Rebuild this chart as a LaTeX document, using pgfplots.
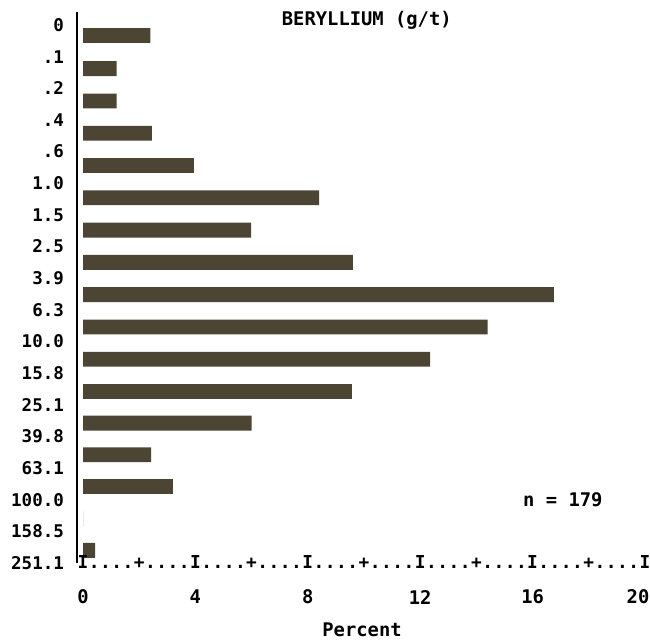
\documentclass[border=0pt]{standalone}
\usepackage{fontspec}
\setmainfont{DejaVu Sans Mono}[BoldFont={DejaVu Sans Mono Bold}]
\setmonofont{DejaVu Sans Mono}
\usepackage{pgfplots}
\pgfplotsset{compat=1.18}
\definecolor{barcol}{RGB}{76,69,51}
\newcommand{\chfont}{\fontsize{17.5bp}{20bp}\selectfont\bfseries}
\newcommand{\txfont}{\fontsize{18.8bp}{21bp}\selectfont\bfseries}
\newcommand{\rowfont}{\fontsize{17.8bp}{20bp}\selectfont\bfseries}
\begin{document}
\begin{tikzpicture}
\begin{axis}[
  x=28.1bp, y=31.65bp, y dir=reverse,
  xmin=-0.2, xmax=20, ymin=-0.4, ymax=17,
  clip=false,
  axis line style={draw=none},
  tick style={draw=none},
  xtick={0,4,8,12,16},
  xticklabels={0,4,8,12,16},
  extra x ticks={20},
  extra x tick labels={20},
  extra x tick style={xticklabel style={xshift=-7bp}},
  xticklabel pos=lower,
  xticklabel style={anchor=center, yshift=-34bp, font=\txfont},
  ytick={0,1,2,3,4,5,6,7,8,9,10,11,12,13,14,15,16,17},
  yticklabels={0,.1,.2,.4,.6,1.0,1.5,2.5,3.9,6.3,10.0,15.8,25.1,39.8,63.1,100.0,158.5,251.1},
  yticklabel style={anchor=east, xshift=-10bp, font=\chfont},
  /pgf/number format/assume math mode=true,
]
% left axis line
\addplot[black, line width=2.2bp] coordinates {(-0.2,-0.4) (-0.2,17)};
% bars: (percent, position between class limits)
\addplot[xbar, fill=barcol, draw=none, bar width=0.47] coordinates {
  (2.40,0.33) (1.20,1.38) (1.20,2.40) (2.45,3.42) (3.95,4.44)
  (8.40,5.46) (5.98,6.48) (9.60,7.50) (16.76,8.52) (14.40,9.54)
  (12.35,10.56) (9.57,11.58) (6.00,12.58) (2.42,13.58) (3.20,14.58)
  (0,15.60) (0.43,16.60)
};
% character axis row
\addplot[only marks, mark=text, text mark={I}, text mark as node=true,
  text mark style={font=\rowfont, anchor=base, yshift=-5.5bp, inner sep=0pt}]
  coordinates {(0,17)(4,17)(8,17)(12,17)(16,17)(20,17)};
\addplot[only marks, mark=text, text mark={+}, text mark as node=true,
  text mark style={font=\rowfont, anchor=base, yshift=-5.5bp, inner sep=0pt}]
  coordinates {(2,17)(6,17)(10,17)(14,17)(18,17)};
\addplot[only marks, mark=text, text mark={.}, text mark as node=true,
  text mark style={font=\rowfont, anchor=base, yshift=-5.5bp, inner sep=0pt}]
  coordinates {(0.4,17)(0.8,17)(1.2,17)(1.6,17)(2.4,17)(2.8,17)(3.2,17)(3.6,17)
  (4.4,17)(4.8,17)(5.2,17)(5.6,17)(6.4,17)(6.8,17)(7.2,17)(7.6,17)
  (8.4,17)(8.8,17)(9.2,17)(9.6,17)(10.4,17)(10.8,17)(11.2,17)(11.6,17)
  (12.4,17)(12.8,17)(13.2,17)(13.6,17)(14.4,17)(14.8,17)(15.2,17)(15.6,17)
  (16.4,17)(16.8,17)(17.2,17)(17.6,17)(18.4,17)(18.8,17)(19.2,17)(19.6,17)};
\node[font=\txfont, anchor=center] at (axis cs:10.1,-0.14) {BERYLLIUM (g/t)};
\node[font=\txfont, anchor=west, inner sep=0pt] at (axis cs:15.66,15.0) {n = 179};
\node[font=\txfont, anchor=center, inner sep=0pt] at (axis cs:9.93,19.12) {Percent};
\coordinate (bbA) at (axis cs:-2.954,-0.79);
\coordinate (bbB) at (axis cs:20.178,19.49);
\end{axis}
\pgfresetboundingbox
\path[use as bounding box] (bbA) rectangle (bbB);
\end{tikzpicture}
\end{document}
